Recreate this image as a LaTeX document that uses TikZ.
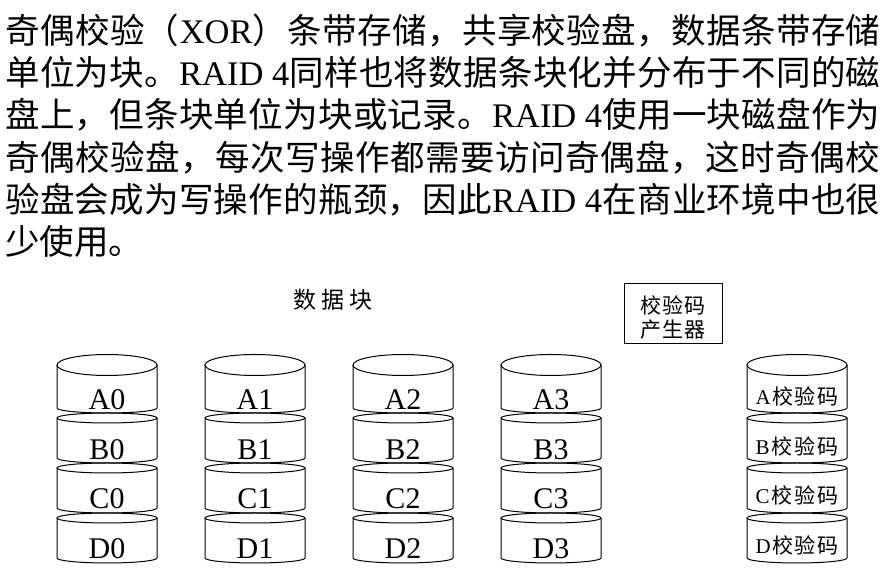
\documentclass[tikz,border=0pt]{standalone}
\usepackage{fontspec}
\setmainfont{Liberation Serif}
\newfontfamily\cjk{Noto Sans CJK SC}
\usetikzlibrary{positioning}
% CJK glyphs get stretchable glue between them, so full lines can be justified
\def\setzh#1{\ifx#1\relax\else\XeTeXcharclass`#1=1\relax\expandafter\setzh\fi}
\setzh 奇偶校验（）条带存储，共享盘数据单位为块。同样也将化并分布于不的磁上但或记录使用一作每次写操都需要访问这时会成瓶颈因此在商业环境中很少产生器码\relax
\XeTeXinterchartoks 1 1 = {\hskip 0pt plus 1fil\relax}
\XeTeXinterchartokenstate=1
\newcommand\la[1]{{\rmfamily #1}}
\newcommand\fullline[1]{\makebox[437.5pt][s]{#1}}
\tikzset{
  para/.style={font=\fontsize{17.25}{20}\selectfont\cjk,inner sep=0pt,anchor=base west},
  disk/.style={line width=0.5pt},
  tag/.style={font=\fontsize{15}{15}\selectfont,inner sep=0pt,anchor=base},
  ptag/.style={font=\fontsize{10.5}{10.5}\selectfont\cjk,inner sep=0pt,anchor=base},
  head/.style={font=\fontsize{11.5}{11.5}\selectfont\cjk,inner sep=0pt},
  genbox/.style={draw,line width=0.5pt,minimum width=49pt,minimum height=30pt,
    inner sep=0pt,font=\fontsize{10.5}{10.5}\selectfont\cjk},
}
% stack of four platters centred at x=#1
\newcommand\drawdisk[1]{%
  \foreach \r in {0,...,3}{
    \pgfmathsetmacro\ty{\r==0 ? 365 : 368+50*\r}
    \pgfmathsetmacro\ry{\r==0 ? 5.25 : 2.5}
    \pgfmathsetmacro\by{408+50*\r}
    \draw[disk] (#1,\ty) ellipse[x radius=25pt,y radius=\ry pt];
    \draw[disk] (#1-50,\ty) -- (#1-50,\by)
      arc[start angle=180,end angle=360,x radius=25pt,y radius=2.5pt] -- (#1+50,\ty);
  }}

\begin{document}
\begin{tikzpicture}[x=0.5pt,y=-0.5pt]
  \useasboundingbox[fill=white] (0,0) rectangle (895,581);
  % paragraph
  \node[para] (l1) at (5,44) {\fullline{奇偶校验（\hfil\la{XOR}\hfil）条带存储，共享校验盘，数据条带存储}};
  \node[para] (l2) at (5,86) {\fullline{单位为块。\hfil\la{RAID 4}\hfil 同样也将数据条块化并分布于不同的磁}};
  \node[para] (l3) at (5,128) {\fullline{盘上，但条块单位为块或记录。\hfil\la{RAID 4}\hfil 使用一块磁盘作为}};
  \node[para] (l4) at (5,171) {\fullline{奇偶校验盘，每次写操作都需要访问奇偶盘，这时奇偶校}};
  \node[para] (l5) at (5,213) {\fullline{验盘会成为写操作的瓶颈，因此\hfil\la{RAID 4}\hfil 在商业环境中也很}};
  \node[para] (l6) at (5,255) {少使用。};
  % diagram
  \node[head] (data) at (333,300) {\makebox[39.5pt][s]{数据块}};
  \node[genbox] (gen) at (673,314) {\raisebox{-2.75pt}[\height][\depth]{%
    \begin{tabular}{@{}c@{}}\makebox[33pt][s]{校验码}\\\makebox[33pt][s]{产生器}\end{tabular}}};
  \foreach \cx in {107,255,403,551,797} {\drawdisk{\cx}}
  \foreach \cx [count=\c from 0] in {107,255,403,551}
    \foreach \row [count=\r from 0] in {A,B,C,D}
      \node[tag] (\row\c) at (\cx,410+49.5*\r) {\row\c};
  \foreach \row [count=\r from 0] in {A,B,C,D}
    \node[ptag] (par\row) at (797,405+49.5*\r) {\makebox[41.5pt][s]{\la{\row}\hfil 校验码}};
\end{tikzpicture}
\end{document}
